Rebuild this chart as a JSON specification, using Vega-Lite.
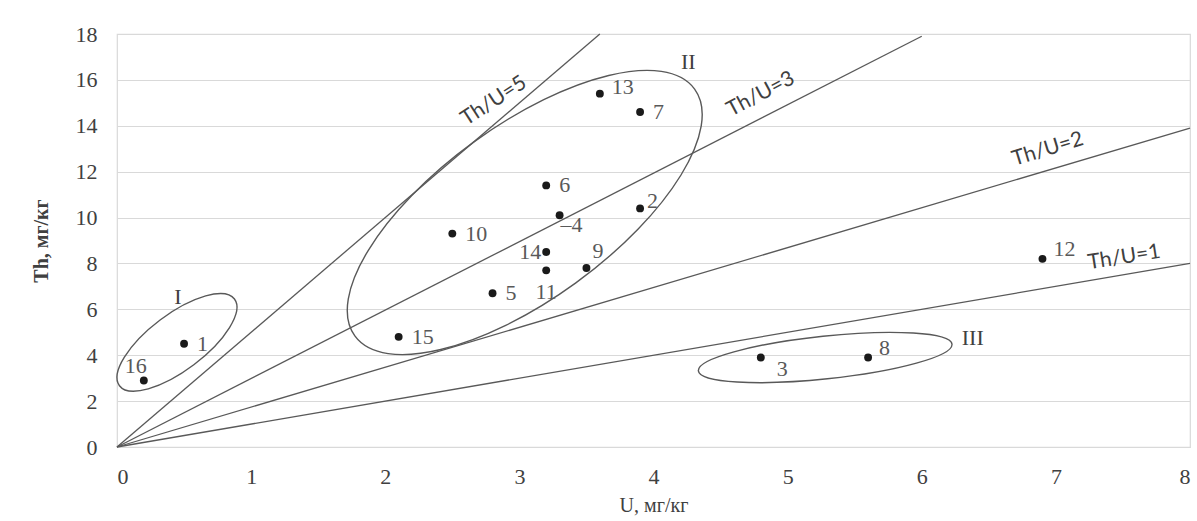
{
  "$schema": "https://vega.github.io/schema/vega-lite/v6.json",
  "width": 1073,
  "height": 413,
  "autosize": {"type": "none"},
  "padding": {"left": 117, "top": 34, "right": 7, "bottom": 74},
  "background": "white",
  "config": {
    "view": {"stroke": "#d9d9d9", "strokeWidth": 1.2},
    "axis": {"labelFont": "Liberation Serif", "labelFontSize": 22, "labelColor": "#404040", "titleFont": "Liberation Serif", "titleColor": "#404040"}
  },
  "datasets": {
    "pts": [
      {"id": "1", "label": "1", "U": 0.5, "Th": 4.5},
      {"id": "2", "label": "2", "U": 3.9, "Th": 10.4},
      {"id": "3", "label": "3", "U": 4.8, "Th": 3.9},
      {"id": "4", "label": "–4", "U": 3.3, "Th": 10.1},
      {"id": "5", "label": "5", "U": 2.8, "Th": 6.7},
      {"id": "6", "label": "6", "U": 3.2, "Th": 11.4},
      {"id": "7", "label": "7", "U": 3.9, "Th": 14.6},
      {"id": "8", "label": "8", "U": 5.6, "Th": 3.9},
      {"id": "9", "label": "9", "U": 3.5, "Th": 7.8},
      {"id": "10", "label": "10", "U": 2.5, "Th": 9.3},
      {"id": "11", "label": "11", "U": 3.2, "Th": 7.7},
      {"id": "12", "label": "12", "U": 6.9, "Th": 8.2},
      {"id": "13", "label": "13", "U": 3.6, "Th": 15.4},
      {"id": "14", "label": "14", "U": 3.2, "Th": 8.5},
      {"id": "15", "label": "15", "U": 2.1, "Th": 4.8},
      {"id": "16", "label": "16", "U": 0.2, "Th": 2.9}
    ],
    "lines": [
      {"ratio": "5", "U": 0, "Th": 0}, {"ratio": "5", "U": 3.6, "Th": 18},
      {"ratio": "3", "U": 0, "Th": 0}, {"ratio": "3", "U": 6, "Th": 17.9},
      {"ratio": "2", "U": 0, "Th": 0}, {"ratio": "2", "U": 8, "Th": 13.9},
      {"ratio": "1", "U": 0, "Th": 0}, {"ratio": "1", "U": 8, "Th": 8}
    ],
    "ellipses": [
      {"group": "I", "U": 0.447, "Th": 4.56},
      {"group": "II", "U": 3.04, "Th": 10.22},
      {"group": "III", "U": 5.28, "Th": 3.9}
    ],
    "groupLabels": [
      {"group": "I", "U": 0.455, "Th": 6.52},
      {"group": "II", "U": 4.26, "Th": 16.8},
      {"group": "III", "U": 6.38, "Th": 4.77}
    ],
    "lineLabels": [
      {"label": "Th/U=5", "U": 2.81, "Th": 15.08},
      {"label": "Th/U=3", "U": 4.8, "Th": 15.37},
      {"label": "Th/U=2", "U": 6.94, "Th": 12.97},
      {"label": "Th/U=1", "U": 7.51, "Th": 8.26}
    ]
  },
  "encoding": {
    "x": {
      "field": "U", "type": "quantitative",
      "scale": {"domain": [0, 8], "nice": false, "zero": false},
      "axis": {
        "values": [0, 1, 2, 3, 4, 5, 6, 7, 8], "grid": false, "domain": false, "ticks": false,
        "labelFont": "Liberation Serif", "labelFontSize": 22, "labelColor": "#404040", "labelPadding": 19,
        "title": "U, мг/кг", "titleFont": "Liberation Serif", "titleFontSize": 20, "titleFontWeight": "normal",
        "titleColor": "#404040", "titlePadding": 8
      }
    },
    "y": {
      "field": "Th", "type": "quantitative",
      "scale": {"domain": [0, 18], "nice": false},
      "axis": {
        "values": [0, 2, 4, 6, 8, 10, 12, 14, 16, 18], "grid": true, "gridColor": "#d9d9d9", "gridWidth": 1.2,
        "domain": false, "ticks": false,
        "labelFont": "Liberation Serif", "labelFontSize": 22, "labelColor": "#404040", "labelPadding": 20,
        "title": "Th, мг/кг", "titleFont": "Liberation Serif", "titleFontSize": 20, "titleFontWeight": "bold",
        "titleColor": "#404040", "titlePadding": 24
      }
    }
  },
  "layer": [
    {
      "data": {"name": "lines"},
      "mark": {"type": "line", "color": "#595959", "strokeWidth": 1.3},
      "encoding": {"detail": {"field": "ratio"}}
    },
    {
      "data": {"name": "ellipses"},
      "transform": [{"filter": {"field": "group", "equal": "I"}}],
      "mark": {"type": "point", "shape": "M 1 0 C 1 0.215 0.552 0.389 0 0.389 C -0.552 0.389 -1 0.215 -1 0 C -1 -0.215 -0.552 -0.389 0 -0.389 C 0.552 -0.389 1 -0.215 1 0 Z", "size": 20736, "angle": 323, "filled": false, "color": "#595959", "strokeWidth": 1.4, "opacity": 1}
    },
    {
      "data": {"name": "ellipses"},
      "transform": [{"filter": {"field": "group", "equal": "II"}}],
      "mark": {"type": "point", "shape": "M 1 0 C 1 0.229 0.552 0.414 0 0.414 C -0.552 0.414 -1 0.229 -1 0 C -1 -0.229 -0.552 -0.414 0 -0.414 C 0.552 -0.414 1 -0.229 1 0 Z", "size": 176400, "angle": 324, "filled": false, "color": "#595959", "strokeWidth": 1.4, "opacity": 1}
    },
    {
      "data": {"name": "ellipses"},
      "transform": [{"filter": {"field": "group", "equal": "III"}}],
      "mark": {"type": "point", "shape": "M 1 0 C 1 0.093 0.552 0.168 0 0.168 C -0.552 0.168 -1 0.093 -1 0 C -1 -0.093 -0.552 -0.168 0 -0.168 C 0.552 -0.168 1 -0.093 1 0 Z", "size": 65025, "angle": 354, "filled": false, "color": "#595959", "strokeWidth": 1.4, "opacity": 1}
    },
    {
      "data": {"name": "pts"},
      "mark": {"type": "circle", "size": 62, "color": "#1a1a1a", "opacity": 1}
    },
    {
      "data": {"name": "pts"},
      "transform": [{"filter": {"field": "id", "oneOf": ["1", "15", "5", "10", "6", "7"]}}],
      "mark": {"type": "text", "align": "left", "baseline": "middle", "dx": 13, "dy": 0, "font": "Liberation Serif", "fontSize": 22, "color": "#595959"},
      "encoding": {"text": {"field": "label"}}
    },
    {
      "data": {"name": "pts"},
      "transform": [{"filter": {"field": "id", "oneOf": ["13"]}}],
      "mark": {"type": "text", "align": "left", "baseline": "middle", "dx": 12, "dy": -7, "font": "Liberation Serif", "fontSize": 22, "color": "#595959"},
      "encoding": {"text": {"field": "label"}}
    },
    {
      "data": {"name": "pts"},
      "transform": [{"filter": {"field": "id", "oneOf": ["2"]}}],
      "mark": {"type": "text", "align": "left", "baseline": "middle", "dx": 7, "dy": -7, "font": "Liberation Serif", "fontSize": 22, "color": "#595959"},
      "encoding": {"text": {"field": "label"}}
    },
    {
      "data": {"name": "pts"},
      "transform": [{"filter": {"field": "id", "oneOf": ["12", "8"]}}],
      "mark": {"type": "text", "align": "left", "baseline": "middle", "dx": 11, "dy": -10, "font": "Liberation Serif", "fontSize": 22, "color": "#595959"},
      "encoding": {"text": {"field": "label"}}
    },
    {
      "data": {"name": "pts"},
      "transform": [{"filter": {"field": "id", "oneOf": ["9"]}}],
      "mark": {"type": "text", "align": "left", "baseline": "middle", "dx": 6, "dy": -17, "font": "Liberation Serif", "fontSize": 22, "color": "#595959"},
      "encoding": {"text": {"field": "label"}}
    },
    {
      "data": {"name": "pts"},
      "transform": [{"filter": {"field": "id", "oneOf": ["3"]}}],
      "mark": {"type": "text", "align": "left", "baseline": "middle", "dx": 16, "dy": 11, "font": "Liberation Serif", "fontSize": 22, "color": "#595959"},
      "encoding": {"text": {"field": "label"}}
    },
    {
      "data": {"name": "pts"},
      "transform": [{"filter": {"field": "id", "oneOf": ["4"]}}],
      "mark": {"type": "text", "align": "left", "baseline": "middle", "dx": 1, "dy": 10, "font": "Liberation Serif", "fontSize": 22, "color": "#595959"},
      "encoding": {"text": {"field": "label"}}
    },
    {
      "data": {"name": "pts"},
      "transform": [{"filter": {"field": "id", "oneOf": ["14"]}}],
      "mark": {"type": "text", "align": "right", "baseline": "middle", "dx": -5, "dy": 0, "font": "Liberation Serif", "fontSize": 22, "color": "#595959"},
      "encoding": {"text": {"field": "label"}}
    },
    {
      "data": {"name": "pts"},
      "transform": [{"filter": {"field": "id", "oneOf": ["11"]}}],
      "mark": {"type": "text", "align": "center", "baseline": "middle", "dx": 0, "dy": 22, "font": "Liberation Serif", "fontSize": 22, "color": "#595959"},
      "encoding": {"text": {"field": "label"}}
    },
    {
      "data": {"name": "pts"},
      "transform": [{"filter": {"field": "id", "oneOf": ["16"]}}],
      "mark": {"type": "text", "align": "center", "baseline": "middle", "dx": -8, "dy": -14, "font": "Liberation Serif", "fontSize": 22, "color": "#595959"},
      "encoding": {"text": {"field": "label"}}
    },
    {
      "data": {"name": "groupLabels"},
      "mark": {"type": "text", "align": "center", "baseline": "middle", "font": "Liberation Serif", "fontSize": 22, "color": "#404040"},
      "encoding": {"text": {"field": "group"}}
    },
    {
      "data": {"name": "lineLabels"},
      "transform": [{"filter": {"field": "label", "equal": "Th/U=5"}}],
      "mark": {"type": "text", "align": "center", "baseline": "middle", "angle": 327, "font": "Lato", "fontSize": 21, "color": "#404040"},
      "encoding": {"text": {"field": "label"}}
    },
    {
      "data": {"name": "lineLabels"},
      "transform": [{"filter": {"field": "label", "equal": "Th/U=3"}}],
      "mark": {"type": "text", "align": "center", "baseline": "middle", "angle": 332, "font": "Lato", "fontSize": 21, "color": "#404040"},
      "encoding": {"text": {"field": "label"}}
    },
    {
      "data": {"name": "lineLabels"},
      "transform": [{"filter": {"field": "label", "equal": "Th/U=2"}}],
      "mark": {"type": "text", "align": "center", "baseline": "middle", "angle": 343, "font": "Lato", "fontSize": 21, "color": "#404040"},
      "encoding": {"text": {"field": "label"}}
    },
    {
      "data": {"name": "lineLabels"},
      "transform": [{"filter": {"field": "label", "equal": "Th/U=1"}}],
      "mark": {"type": "text", "align": "center", "baseline": "middle", "angle": 351, "font": "Lato", "fontSize": 21, "color": "#404040"},
      "encoding": {"text": {"field": "label"}}
    }
  ]
}
